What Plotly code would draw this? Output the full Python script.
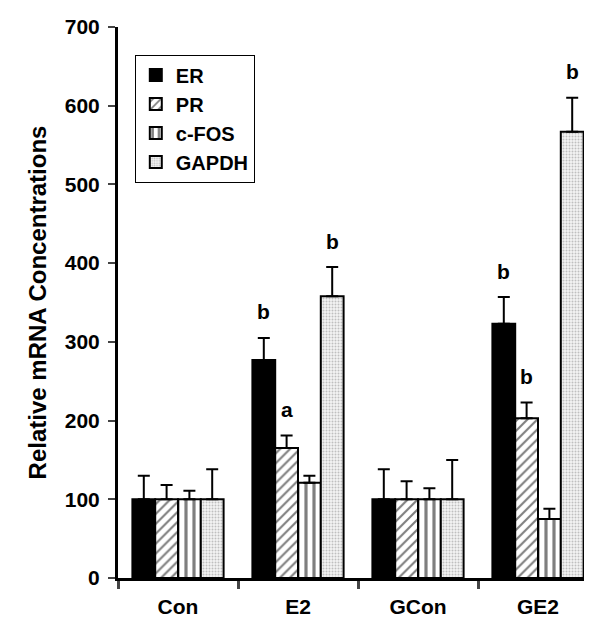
import plotly.graph_objects as go

groups = ["Con", "E2", "GCon", "GE2"]
series = ["ER", "PR", "c-FOS", "GAPDH"]
er_vals = [100, 277, 100, 323]
pr_vals = [100, 165, 100, 203]
cfos_vals = [100, 121, 100, 75]
gapdh_vals = [100, 358, 100, 567]
er_err = [30, 28, 38, 34]
pr_err = [18, 16, 23, 20]
cfos_err = [11, 9, 14, 13]
gapdh_err = [38, 37, 50, 43]
er_sig = ["", "b", "", "b"]
pr_sig = ["", "a", "", "b"]
cfos_sig = ["", "", "", ""]
gapdh_sig = ["", "b", "", "b"]
y_ticks = [0, 100, 200, 300, 400, 500, 600, 700]

values = [er_vals, pr_vals, cfos_vals, gapdh_vals]
errors = [er_err, pr_err, cfos_err, gapdh_err]
sigs = [er_sig, pr_sig, cfos_sig, gapdh_sig]

styles = [
    dict(color="black", pattern=dict(shape="")),
    dict(color="white", pattern=dict(shape="/", fgcolor="black", bgcolor="white", size=7, solidity=0.3)),
    dict(color="white", pattern=dict(shape="|", fgcolor="black", bgcolor="white", size=8, solidity=0.4)),
    dict(color="#eeeeee", pattern=dict(shape=".", fgcolor="#8a8a8a", bgcolor="#f4f4f4", size=3, solidity=0.35)),
]

FONT = "Liberation Sans, Arial, sans-serif"
fig = go.Figure()
for name, v, e, st in zip(series, values, errors, styles):
    fig.add_trace(go.Bar(
        x=groups, y=v, name=name,
        marker=dict(color=st["color"], pattern=st["pattern"],
                    line=dict(color="black", width=2)),
        error_y=dict(type="data", array=e, arrayminus=[0] * len(e), symmetric=False,
                     color="black", thickness=2, width=6),
    ))

bargap = 0.24
n = len(series)
w = (1 - bargap) / n
annotations = []
for i, (v, e, s) in enumerate(zip(values, errors, sigs)):
    off = -(1 - bargap) / 2 + (i + 0.5) * w
    for j in range(len(groups)):
        if s[j]:
            annotations.append(dict(
                x=j + off, y=v[j] + e[j] + 33, xref="x", yref="y",
                text=s[j], showarrow=False,
                font=dict(family=FONT, size=21, color="black", weight="bold"),
            ))

fig.update_layout(
    width=592, height=618,
    margin=dict(l=110, r=2, t=19, b=48),
    paper_bgcolor="white", plot_bgcolor="white",
    barmode="group", bargap=bargap, bargroupgap=0,
    font=dict(family=FONT, size=21, color="black", weight="bold"),
    showlegend=True,
    legend=dict(x=0.035, y=0.95, xanchor="left", yanchor="top",
                bordercolor="black", borderwidth=1, bgcolor="white",
                font=dict(family=FONT, size=20, color="black", weight="bold"),
                tracegroupgap=0, itemwidth=30),
    annotations=annotations,
)
fig.update_yaxes(
    range=[0, 700], tickvals=y_ticks, ticks="outside", ticklen=7, tickwidth=2,
    showline=True, linecolor="black", linewidth=3, showgrid=False, zeroline=False,
    ticklabelstandoff=4,
    tickfont=dict(family=FONT, size=21, weight="bold"),
    title=dict(text="Relative mRNA Concentrations", standoff=12,
               font=dict(family=FONT, size=24, weight="bold")),
)
fig.update_xaxes(
    showline=True, linecolor="black", linewidth=3, ticks="outside", ticklen=8, tickwidth=3,
    tickson="boundaries", showgrid=False, ticklabelstandoff=8,
    tickfont=dict(family=FONT, size=21, weight="bold"),
)
fig.write_html("out.html")
